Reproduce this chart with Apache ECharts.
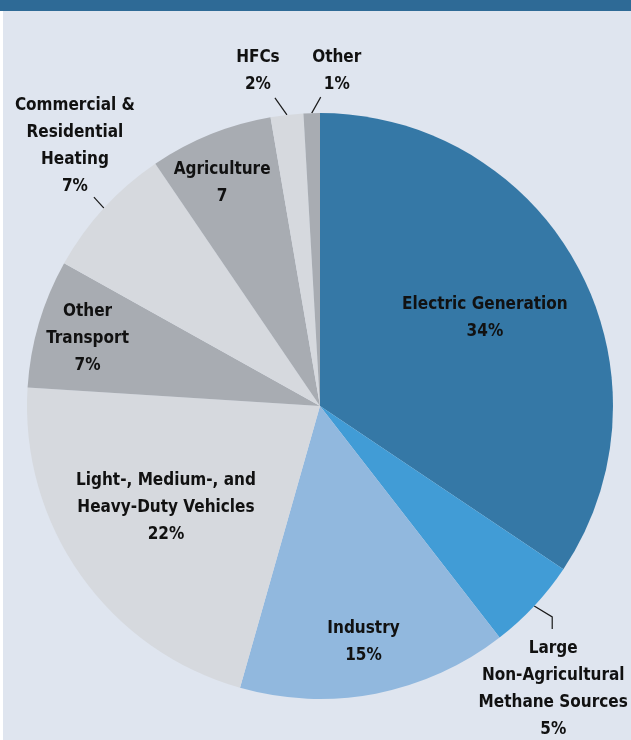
<!DOCTYPE html>
<html><head><meta charset="utf-8">
<script src="https://cdn.jsdelivr.net/npm/echarts@6/dist/echarts.min.js"></script>
<style>html,body{margin:0;padding:0;background:#fff}#c{width:631px;height:740px}</style>
</head><body><div id="c"></div>
<script>
const categories = ['Electric Generation', 'Large\nNon-Agricultural\nMethane Sources', 'Industry', 'Light-, Medium-, and\nHeavy-Duty Vehicles', 'Other\nTransport', 'Commercial &\nResidential\nHeating', 'Agriculture', 'HFCs', 'Other'];
const shares = [34.4, 5.1, 14.9, 21.6, 7.1, 7.4, 6.8, 1.8, 0.9];
const valueSuffix = ['%', '%', '%', '%', '%', '%', '', '%', '%'];
const sliceColors = ['#3578a6', '#419cd6', '#91b8de', '#d6d9de', '#a8acb2', '#d6d9de', '#a8acb2', '#d6d9de', '#a8acb2'];
const labelPlacement = ['inside', 'outside', 'inside', 'inside', 'inside', 'outside', 'inside', 'outside', 'outside'];

// label layout tweaks (pixels)
const insideShift = {0: [33, -18], 2: [15, 89], 3: [-32, 15.5], 4: [-89, -25], 6: [-42, -84]};
const guide = {
  1: {seg: [[18, 11], [0, 12]], label: [1, 60.5]},
  5: {seg: [[-10, -11]], label: [-19, -51.5]},
  7: {seg: [[-12, -17]], label: [-17, -27]},
  8: {seg: [[9, -16]], label: [16, -26.5]}
};

const chart = echarts.init(document.getElementById('c'), null, {renderer: 'canvas'});
const data = categories.map((name, i) => ({
  name: name,
  value: shares[i],
  itemStyle: {color: sliceColors[i]},
  label: {position: labelPlacement[i]},
  labelLine: {show: labelPlacement[i] === 'outside', length: 15, length2: 0}
}));

chart.setOption({
  backgroundColor: '#dfe5ef',
  animation: false,
  graphic: [
    {type: 'rect', left: 0, top: 0, shape: {width: 631, height: 11}, style: {fill: '#2e6a96'}, silent: true},
    {type: 'rect', left: 0, top: 11, shape: {width: 3, height: 729}, style: {fill: '#ffffff'}, silent: true}
  ],
  series: [{
    type: 'pie',
    center: [320, 406],
    radius: 293,
    startAngle: 90,
    clockwise: true,
    avoidLabelOverlap: false,
    emphasis: {disabled: true},
    itemStyle: {borderWidth: 0},
    label: {
      show: true,
      color: '#111',
      fontFamily: '"DejaVu Sans Condensed", "DejaVu Sans", sans-serif',
      fontWeight: 'bold',
      fontSize: 17,
      lineHeight: 27,
      align: 'center',
      formatter: (p) => p.name + '\n' + Math.round(p.value) + valueSuffix[p.dataIndex]
    },
    labelLine: {lineStyle: {color: '#1a1a1a', width: 1.2}},
    labelLayout: function (params) {
      const i = params.dataIndex;
      if (insideShift[i]) {
        return {dx: insideShift[i][0], dy: insideShift[i][1]};
      }
      const g = guide[i];
      if (g && params.labelLinePoints) {
        const p0 = params.labelLinePoints[0];
        const pts = [[p0[0], p0[1]]];
        let cur = [p0[0], p0[1]];
        g.seg.forEach(s => { cur = [cur[0] + s[0], cur[1] + s[1]]; pts.push(cur); });
        return {
          x: cur[0] + g.label[0],
          y: cur[1] + g.label[1],
          align: 'center',
          verticalAlign: 'middle',
          labelLinePoints: pts
        };
      }
      return {};
    },
    data: data
  }]
});
</script></body></html>
